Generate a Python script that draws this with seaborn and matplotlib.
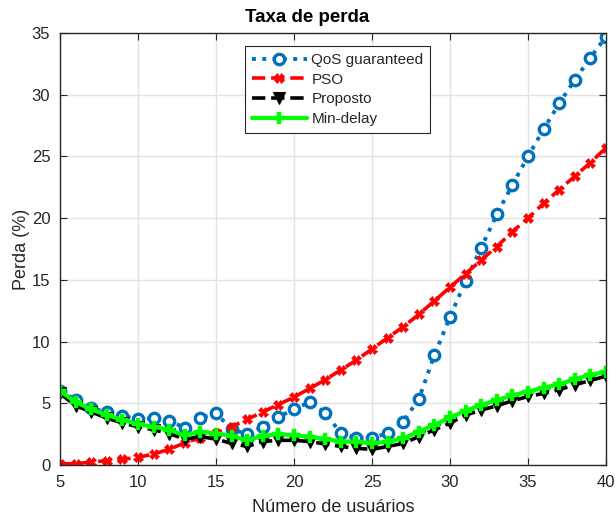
import numpy as np
import pandas as pd
import matplotlib
matplotlib.use("Agg")
import matplotlib.pyplot as plt
import seaborn as sns

# Number of users
usuarios = list(range(5, 41))

# Loss rate (%) for each scheme
qos_guaranteed = [6.0, 5.3, 4.6, 4.3, 4.0, 3.7, 3.8, 3.6, 3.0, 3.8, 4.2, 2.9, 2.5, 3.1, 3.9,
                  4.5, 5.1, 4.2, 2.6, 2.2, 2.15, 2.6, 3.5, 5.35, 8.9, 12.0, 14.9, 17.6, 20.3,
                  22.7, 25.0, 27.2, 29.3, 31.2, 33.0, 34.7]
pso = [0.1, 0.1, 0.24, 0.35, 0.46, 0.62, 0.89, 1.27, 1.8, 2.2, 2.6, 3.1, 3.7, 4.3, 4.9,
       5.5, 6.2, 6.9, 7.7, 8.5, 9.4, 10.3, 11.2, 12.2, 13.3, 14.4, 15.5, 16.6, 17.7,
       18.9, 20.0, 21.2, 22.3, 23.4, 24.5, 25.7]
proposto = [5.8, 4.8, 4.3, 3.8, 3.4, 3.1, 2.85, 2.55, 2.1, 2.3, 2.1, 1.75, 1.5, 1.9, 2.0,
            2.0, 1.9, 1.7, 1.5, 1.35, 1.27, 1.5, 1.75, 2.3, 2.85, 3.4, 4.05, 4.45, 4.8,
            5.2, 5.55, 5.8, 6.1, 6.5, 6.85, 7.2]
min_delay = [6.0, 5.1, 4.5, 4.05, 3.65, 3.3, 3.1, 2.85, 2.4, 2.7, 2.55, 2.35, 2.0, 2.35, 2.5,
             2.4, 2.3, 2.1, 1.9, 1.9, 1.75, 1.9, 2.15, 2.7, 3.25, 3.85, 4.4, 4.85, 5.25,
             5.65, 5.95, 6.25, 6.55, 6.95, 7.3, 7.55]

series_names = ["QoS guaranteed", "PSO", "Proposto", "Min-delay"]
series_values = [qos_guaranteed, pso, proposto, min_delay]

df = pd.DataFrame({
    "usuarios": usuarios * len(series_names),
    "perda": sum(series_values, []),
    "serie": sum([[n] * len(usuarios) for n in series_names], []),
})

sns.set_theme(style="whitegrid")
plt.rcParams["font.family"] = ["Liberation Sans", "DejaVu Sans"]

fig = plt.figure(figsize=(6.15, 5.16), dpi=100)
ax = fig.add_axes([60 / 615, 1 - 465 / 516, (606 - 60) / 615, (465 - 33) / 516])

styles = {
    "QoS guaranteed": dict(color="#0072BD", linestyle=":", marker="o", markersize=7.5,
                           markerfacecolor="white", markeredgecolor="#0072BD",
                           markeredgewidth=2.4, linewidth=2.8),
    "PSO": dict(color="#FF0000", linestyle="--", marker="X", markersize=7,
                markerfacecolor="#FF0000", markeredgecolor="#FF0000",
                markeredgewidth=0.5, linewidth=2.6),
    "Proposto": dict(color="black", linestyle="--", marker="v", markersize=9,
                     markerfacecolor="black", markeredgecolor="black", linewidth=2.6),
    "Min-delay": dict(color="#00FF00", linestyle="-", marker="P", markersize=8,
                      markerfacecolor="#00FF00", markeredgecolor="#00FF00",
                      markeredgewidth=0.3, linewidth=3.0),
}

for name in series_names:
    sub = df[df["serie"] == name]
    st = styles[name]
    sns.lineplot(data=sub, x="usuarios", y="perda", ax=ax, label=name, **st)

ax.set_xlim(5, 40)
ax.set_ylim(0, 35)
ax.set_xticks(range(5, 41, 5))
ax.set_yticks(range(0, 36, 5))
ax.grid(True, color="#E3E3E3", linewidth=1.0)
for s in ax.spines.values():
    s.set_color("#262626")
    s.set_linewidth(1.0)
    s.set_visible(True)
ax.tick_params(axis="both", direction="in", length=5, width=0.8, color="#262626",
               labelsize=12, labelcolor="#262626", top=True, right=True,
               bottom=True, left=True, pad=7)

fig.text(0.5, 1 - 18 / 516, "Taxa de perda", fontsize=13.5, fontweight="bold",
         color="black", ha="center", va="center")
ax.set_xlabel("Número de usuários", fontsize=13, color="#262626", labelpad=7)
ax.set_ylabel("Perda (%)", fontsize=13, color="#262626", labelpad=1)

leg = ax.legend(loc="upper left", bbox_to_anchor=(245 / 615, 1 - 46 / 516),
                bbox_transform=fig.transFigure, frameon=True, fancybox=False,
                fontsize=11, handlelength=3.6, handletextpad=0.3, borderpad=0.45,
                labelspacing=0.38, borderaxespad=0)
leg.get_frame().set_edgecolor("#262626")
leg.get_frame().set_linewidth(0.8)
leg.get_frame().set_alpha(1)

fig.savefig("out.png", dpi=100)
